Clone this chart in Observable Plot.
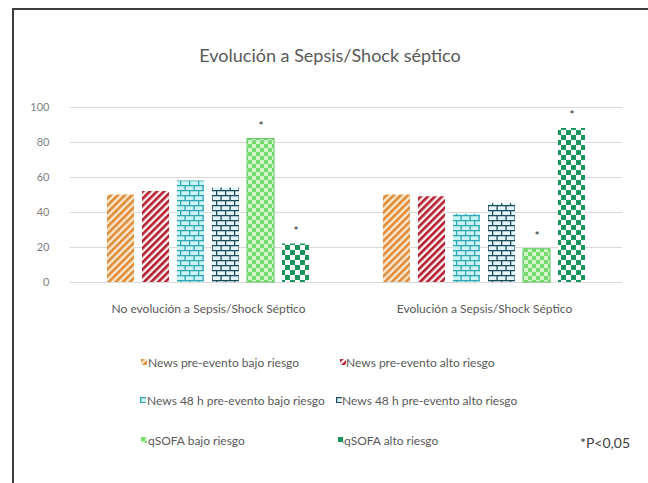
<!DOCTYPE html>
<html lang="es">
<head>
<meta charset="utf-8">
<script src="https://cdn.jsdelivr.net/npm/d3@7"></script>
<script src="https://cdn.jsdelivr.net/npm/@observablehq/plot@0.6"></script>
<style>
  html, body { margin: 0; padding: 0; background: #fff; overflow: hidden; }
  #page { position: relative; width: 648px; height: 483px; overflow: hidden; background: #fff; font-family: Lato, "Open Sans", sans-serif; }
  #box { position: absolute; left: 12px; top: 8px; width: 700px; height: 520px; border-left: 2px solid #3d3d3d; border-top: 2px solid #3d3d3d; }
  #title { position: absolute; left: 0; width: 660px; top: 44px; text-align: center; font-size: 18px; color: #595959; }
  #chart { position: absolute; left: 0; top: 0; }
  .leg { position: absolute; font-size: 12px; color: #595959; white-space: nowrap; line-height: 14px; }
  .sw { position: absolute; }
  #note { position: absolute; left: 580px; top: 434px; font-size: 14px; color: #404040; }
</style>
</head>
<body>
<div id="page">
  <svg width="0" height="0" style="position:absolute">
    <defs>
      <pattern id="pat-news-bajo" width="5" height="5" patternUnits="userSpaceOnUse" patternTransform="rotate(45)">
        <rect width="5" height="5" fill="#fbe9cf"/>
        <rect width="2.6" height="5" fill="#df8a37"/>
      </pattern>
      <pattern id="pat-news-alto" width="5" height="5" patternUnits="userSpaceOnUse" patternTransform="rotate(45)">
        <rect width="5" height="5" fill="#fdf3f3"/>
        <rect width="2.6" height="5" fill="#b41d2d"/>
      </pattern>
      <pattern id="pat-news48-bajo" width="9" height="10" patternUnits="userSpaceOnUse">
        <rect width="9" height="10" fill="#cbf3f5"/>
        <path d="M0 0.6H9M0 5.6H9M0.6 0.6V5.6M5.1 5.6V10.6" stroke="#2ea7b3" stroke-width="1.3" fill="none"/>
      </pattern>
      <pattern id="pat-news48-alto" width="9" height="10" patternUnits="userSpaceOnUse">
        <rect width="9" height="10" fill="#e2f4f7"/>
        <path d="M0 0.6H9M0 5.6H9M0.6 0.6V5.6M5.1 5.6V10.6" stroke="#1d4b5c" stroke-width="1.3" fill="none"/>
      </pattern>
      <pattern id="pat-qsofa-bajo" width="8" height="8" patternUnits="userSpaceOnUse">
        <rect width="8" height="8" fill="#d3f6cc"/>
        <rect width="4" height="4" fill="#76da6c"/>
        <rect x="4" y="4" width="4" height="4" fill="#76da6c"/>
      </pattern>
      <pattern id="pat-qsofa-alto" width="10" height="10" patternUnits="userSpaceOnUse">
        <rect width="10" height="10" fill="#ffffff"/>
        <rect width="5" height="5" fill="#17955a"/>
        <rect x="5" y="5" width="5" height="5" fill="#17955a"/>
      </pattern>
    </defs>
  </svg>
  <div id="box"></div>
  <div id="title">Evolución a Sepsis/Shock séptico</div>
  <div id="chart"></div>
  <div id="legend"></div>
  <div id="note">*P&lt;0,05</div>
</div>
<script>
// Outcome groups on the horizontal axis
const groups = ["No evolución a Sepsis/Shock Séptico", "Evolución a Sepsis/Shock Séptico"];

// Risk scores, one bar each inside every group
const series = [
  "News pre-evento bajo riesgo",
  "News pre-evento alto riesgo",
  "News 48 h pre-evento bajo riesgo",
  "News 48 h pre-evento alto riesgo",
  "qSOFA bajo riesgo",
  "qSOFA alto riesgo"
];

// Percentages per group, in series order
const noEvolucion = [50, 52, 58, 54, 82, 22];
const evolucion = [50, 49, 39, 45, 19, 88];

// Series marked as significant (*P<0,05) in both groups
const significativos = ["qSOFA bajo riesgo", "qSOFA alto riesgo"];

// Value axis ticks
const yTicks = [0, 20, 40, 60, 80, 100];

// Fill pattern and outline per series
const patternIds = ["pat-news-bajo", "pat-news-alto", "pat-news48-bajo", "pat-news48-alto", "pat-qsofa-bajo", "pat-qsofa-alto"];
const outlines = ["none", "none", "none", "none", "#5cc85a", "none"];

const valuesByGroup = [noEvolucion, evolucion];
const rows = groups.flatMap((g, gi) => series.map((s, si) => ({
  group: g,
  series: s,
  value: valuesByGroup[gi][si],
  fill: `url(#${patternIds[si]})`,
  stroke: outlines[si],
  star: significativos.includes(s)
})));

const chart = Plot.plot({
  width: 648,
  height: 330,
  marginTop: 107,
  marginBottom: 48,
  marginLeft: 70,
  marginRight: 26,
  style: {fontFamily: "Lato, 'Open Sans', sans-serif", fontSize: "12px", color: "#595959", background: "transparent"},
  fx: {domain: groups, padding: 0, label: null},
  x: {domain: series, paddingInner: 0.22, paddingOuter: 0.95, axis: null},
  y: {domain: [0, 100], axis: null},
  color: {type: "identity"},
  marks: [
    Plot.ruleY(yTicks, {stroke: "#d9d9d9", strokeWidth: 1}),
    Plot.axisY({ticks: yTicks, tickSize: 0, tickPadding: 21, label: null, fill: "#7f7f7f", fontSize: 11}),
    Plot.axisFx({anchor: "bottom", tickSize: 0, tickPadding: 22, label: null, fill: "#595959", fontSize: 12}),
    Plot.barY(rows, {fx: "group", x: "series", y: "value", fill: "fill", stroke: "stroke", strokeWidth: 1}),
    Plot.text(rows.filter(d => d.star), {fx: "group", x: "series", y: "value", text: () => "*", dy: -13, fontSize: 12, fill: "#262626"})
  ]
});
document.getElementById("chart").append(chart);

// Legend: three rows of two entries, each with a small pattern swatch
const legendSlots = [
  {sx: 141, tx: 148, ty: 363},
  {sx: 340, tx: 346, ty: 363},
  {sx: 140, tx: 147, ty: 401},
  {sx: 336, tx: 342, ty: 401},
  {sx: 141, tx: 148, ty: 441},
  {sx: 338, tx: 344, ty: 441}
];
const legend = document.getElementById("legend");
series.forEach((s, i) => {
  const slot = legendSlots[i];
  const sw = document.createElementNS("http://www.w3.org/2000/svg", "svg");
  sw.setAttribute("class", "sw");
  sw.setAttribute("width", 6);
  sw.setAttribute("height", 6);
  sw.style.left = slot.sx + "px";
  sw.style.top = (slot.ty - 4) + "px";
  const r = document.createElementNS("http://www.w3.org/2000/svg", "rect");
  r.setAttribute("width", 6);
  r.setAttribute("height", 6);
  r.setAttribute("fill", `url(#${patternIds[i]})`);
  sw.append(r);
  legend.append(sw);
  const t = document.createElement("div");
  t.className = "leg";
  t.textContent = s;
  t.style.left = slot.tx + "px";
  t.style.top = (slot.ty - 7) + "px";
  legend.append(t);
});
</script>
</body>
</html>
